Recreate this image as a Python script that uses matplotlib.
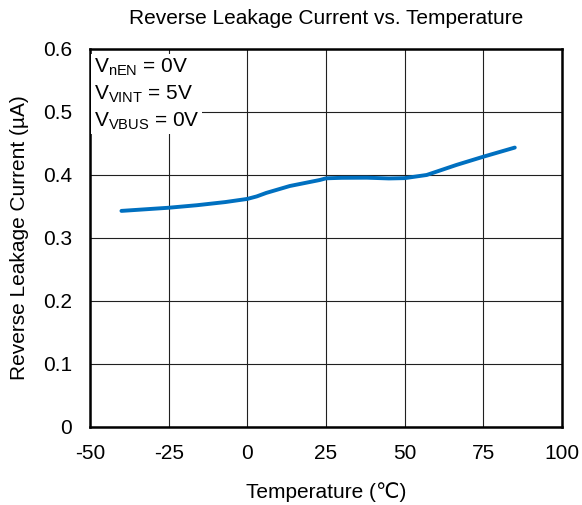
import matplotlib
matplotlib.use("Agg")
import matplotlib.pyplot as plt

plt.rcParams['font.family'] = ['Liberation Sans', 'DejaVu Sans']
plt.rcParams['mathtext.fontset'] = 'custom'
plt.rcParams['mathtext.rm'] = 'Liberation Sans'
plt.rcParams['axes.unicode_minus'] = False

# curve
temp = [-40, -25, -16, -7, 0, 3, 6, 13.5, 17, 23, 25, 30, 38, 45, 50, 57, 66.5, 75, 85]
leak = [0.343, 0.348, 0.352, 0.357, 0.362, 0.366, 0.3715, 0.3825, 0.386, 0.392, 0.3947,
        0.3955, 0.3957, 0.3945, 0.395, 0.400, 0.416, 0.429, 0.4435]

xticks = [-50, -25, 0, 25, 50, 75, 100]
yticks = [0, 0.1, 0.2, 0.3, 0.4, 0.5, 0.6]
ylabels = ['0', '0.1', '0.2', '0.3', '0.4', '0.5', '0.6']

fig = plt.figure(figsize=(5.82, 5.05), dpi=100)
ax = fig.add_axes([0.1546, 0.1545, 0.811, 0.7485])

ax.plot(temp, leak, color='#0070C0', lw=2.8, solid_capstyle='round',
        solid_joinstyle='round', zorder=3)

ax.set_xlim(-50, 100)
ax.set_ylim(0, 0.6)
ax.set_xticks(xticks)
ax.set_yticks(yticks)
ax.set_yticklabels(ylabels)
ax.grid(True, color='#202020', lw=0.8)
ax.tick_params(length=0, labelsize=15)
ax.tick_params(axis='x', pad=12)
ax.tick_params(axis='y', pad=13)
for s in ax.spines.values():
    s.set_linewidth(1.8)

ax.set_xlabel('Temperature (\u2103)', fontsize=15, labelpad=14)
ax.set_ylabel('Reverse Leakage Current (\u00b5A)', fontsize=15, labelpad=10)
ax.set_title('Reverse Leakage Current vs. Temperature', fontsize=15, pad=18)

label = ('$\\mathregular{V_{nEN}}$ = 0V\n'
         '$\\mathregular{V_{VINT}}$ = 5V\n'
         '$\\mathregular{V_{VBUS}}$ = 0V')
ax.text(0.008, 0.98, label, transform=ax.transAxes, fontsize=15,
        va='top', ha='left', linespacing=1.35, zorder=4,
        bbox=dict(facecolor='white', edgecolor='none', pad=2))

fig.savefig('out.png', dpi=100)
